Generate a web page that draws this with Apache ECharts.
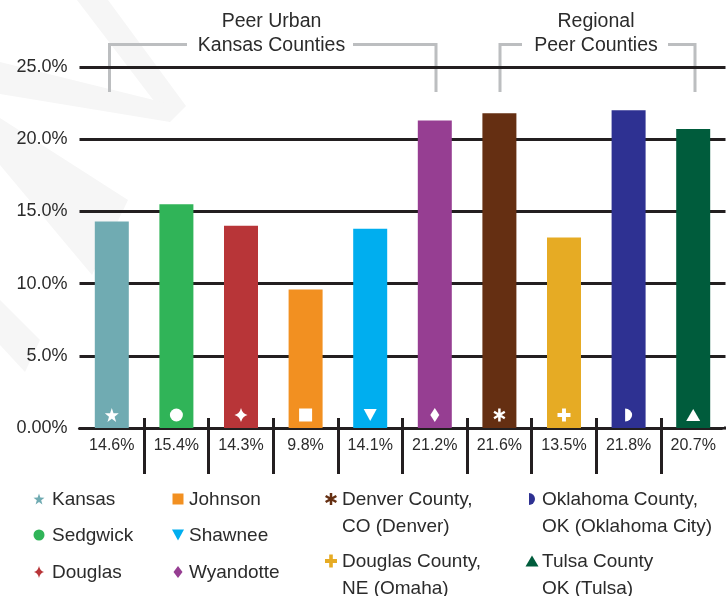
<!DOCTYPE html>
<html><head><meta charset="utf-8">
<script src="https://cdn.jsdelivr.net/npm/echarts@6/dist/echarts.min.js"></script>
<style>html,body{margin:0;padding:0;background:#fff}#c{width:726px;height:596px}</style>
</head><body><div id="c"></div>
<script>
// ---- data ----
const categories = ['Kansas','Sedgwick','Douglas','Johnson','Shawnee','Wyandotte','Denver County, CO (Denver)','Douglas County, NE (Omaha)','Oklahoma County, OK (Oklahoma City)','Tulsa County OK (Tulsa)'];
const legendNames = ['Kansas','Sedgwick','Douglas','Johnson','Shawnee','Wyandotte','Denver County,\nCO (Denver)','Douglas County,\nNE (Omaha)','Oklahoma County,\nOK (Oklahoma City)','Tulsa County\nOK (Tulsa)'];
const rateLabels = ['14.6%','15.4%','14.3%','9.8%','14.1%','21.2%','21.6%','13.5%','21.8%','20.7%'];
const barHeights = [14.3,15.5,14.0,9.6,13.8,21.3,21.8,13.2,22.0,20.7];
const barColors = ['#70abb2','#30b458','#b83538','#f29021','#00aeef','#963e92','#652f12','#e6ab24','#2e3192','#005c3c'];
const markers = ['star','circle','sparkle','square','triangleDown','diamond','asterisk','plus','halfCircle','triangle'];
const yMin = 0, yMax = 25, yStep = 5;
const groupTitles = ['Peer Urban\nKansas Counties','Regional\nPeer Counties'];

// ---- marker shapes ----
const paths = {
  star: 'M0,-10 L2.35,-3.24 L9.51,-3.09 L3.8,1.24 L5.88,8.09 L0,4 L-5.88,8.09 L-3.8,1.24 L-9.51,-3.09 L-2.35,-3.24 Z',
  circle: 'M0,-10 A10,10 0 1 1 0,10 A10,10 0 1 1 0,-10 Z',
  sparkle: 'M0,-10 Q2,-2 10,0 Q2,2 0,10 Q-2,2 -10,0 Q-2,-2 0,-10 Z',
  square: 'M-10,-10 L10,-10 L10,10 L-10,10 Z',
  triangleDown: 'M-10,-9 L10,-9 L0,9 Z',
  diamond: 'M0,-10 L7,0 L0,10 L-7,0 Z',
  asterisk: 'M-2,-10 L2,-10 L2,10 L-2,10 Z M7.66,-6.73 L9.66,-3.27 L-7.66,6.73 L-9.66,3.27 Z M-9.66,-3.27 L-7.66,-6.73 L9.66,3.27 L7.66,6.73 Z',
  plus: 'M-3,-10 L3,-10 L3,-3 L10,-3 L10,3 L3,3 L3,10 L-3,10 L-3,3 L-10,3 L-10,-3 L-3,-3 Z',
  halfCircle: 'M0,-10 A10,10 0 0 1 0,10 Z',
  triangle: 'M0,-9 L10,9 L-10,9 Z'
};
const barIconSize = {star:[14,14],circle:[13,13],sparkle:[13,14],square:[13,13],triangleDown:[13,12],diamond:[9,14],asterisk:[12,13],plus:[13,13],halfCircle:[7,13],triangle:[14,12]};
const legendIconSize = {star:[11,11],circle:[11,11],sparkle:[10,12],square:[11,11],triangleDown:[12,11],diamond:[9,12],asterisk:[12,12],plus:[12,13],halfCircle:[6,12],triangle:[13,11]};

const FONT = '"Liberation Sans", Arial, sans-serif';
const TXT = '#2b2b2b';
const chart = echarts.init(document.getElementById('c'));

// legend layout (positions)
const legendSlots = [[39,499],[39,535],[39,572],[178,499],[178,535],[178,572],[331,499],[331,561],[532,499],[532,561]];
const legendTextDx = [13,13,13,11,11,11,11,11,10,10];

const graphics = [];
// faint watermark
const wm = [
  [[77,0],[108,0],[186,106],[170,122]],
  [[0,62],[170,104],[170,122],[0,94]],
  [[0,118],[128,200],[92,275],[0,165]],
  [[0,300],[40,340],[25,372],[0,345]]
];
wm.forEach(p => graphics.push({type:'polygon', z:-100, silent:true, shape:{points:p}, style:{fill:'#f6f6f6'}}));
// brackets
const brackets = [
  [[109.5,92],[109.5,44.5],[187,44.5]], [[353,44.5],[436,44.5],[436,92]],
  [[500,92],[500,44.5],[522,44.5]], [[668,44.5],[695,44.5],[695,92]]
];
brackets.forEach(p => graphics.push({type:'polyline', shape:{points:p}, style:{stroke:'#bcbec0', lineWidth:3, fill:null}}));
const titlePos = [[271.5,10],[596,10]];
groupTitles.forEach((t,i) => graphics.push({type:'text', x:titlePos[i][0], y:titlePos[i][1],
  style:{text:t, font:'19.5px ' + FONT, fill:TXT, align:'center', verticalAlign:'top', lineHeight:24}}));
// legend texts
legendNames.forEach((n,i) => {
  const [cx,cy] = legendSlots[i];
  graphics.push({type:'text', x:cx+legendTextDx[i], y:cy-13, style:{text:n, font:'19px ' + FONT, fill:TXT, align:'left', verticalAlign:'top', lineHeight:27}});
});
// mask the automatic tick at the right edge of the category axis
graphics.push({type:'rect', z:100, silent:true, shape:{x:722.5, y:414, width:4, height:12.5}, style:{fill:'#fff'}});
graphics.push({type:'rect', z:100, silent:true, shape:{x:722.5, y:429.6, width:4, height:48}, style:{fill:'#fff'}});

const tickInterval = (idx) => idx !== 0;

chart.setOption({
  animation:false,
  grid:{left:79.5, right:0.5, top:67, bottom:168, containLabel:false},
  xAxis:[{
    type:'category', data:rateLabels, position:'bottom',
    axisLine:{show:true, lineStyle:{color:'#231f20', width:3}},
    axisTick:{show:true, length:46, interval:tickInterval, lineStyle:{color:'#231f20', width:3}},
    axisLabel:{interval:0, margin:10, fontSize:16, color:TXT, fontFamily:FONT}
  },{
    type:'category', data:rateLabels, position:'bottom', offset:0,
    axisLine:{show:false},
    axisTick:{show:true, inside:true, length:10, interval:tickInterval, lineStyle:{color:'#231f20', width:3}},
    axisLabel:{show:false}
  }],
  yAxis:{type:'value', min:yMin, max:yMax, interval:yStep,
    axisLine:{show:false}, axisTick:{show:false},
    splitLine:{show:true, lineStyle:{color:'#231f20', width:3}},
    axisLabel:{margin:12, fontSize:18, color:TXT, fontFamily:FONT,
      formatter:v => v === 0 ? '0.00%' : v.toFixed(1) + '%'}
  },
  series:[{
    type:'bar', name:'Rate', barWidth:34, z:2,
    data:barHeights.map((v,i)=>({value:v, name:categories[i], itemStyle:{color:barColors[i]}}))
  },{
    type:'scatter', z:5, silent:true, symbolOffset:[0,-13],
    itemStyle:{color:'#ffffff', opacity:1},
    data:categories.map((c,i)=>({value:[i,0], name:c, symbol:'path://'+paths[markers[i]], symbolSize:barIconSize[markers[i]]}))
  },{
    type:'custom', coordinateSystem:'none', silent:true, z:5,
    data:categories.map((c,i)=>({value:i, name:c})),
    renderItem:function(params, api){
      const i = params.dataIndex;
      const [cx,cy] = legendSlots[i];
      const sz = legendIconSize[markers[i]];
      return {type:'path', shape:{pathData:paths[markers[i]], x:cx-sz[0]/2, y:cy-sz[1]/2, width:sz[0], height:sz[1], layout:'cover'}, style:{fill:barColors[i]}};
    }
  }],
  graphic:graphics
});
</script></body></html>
